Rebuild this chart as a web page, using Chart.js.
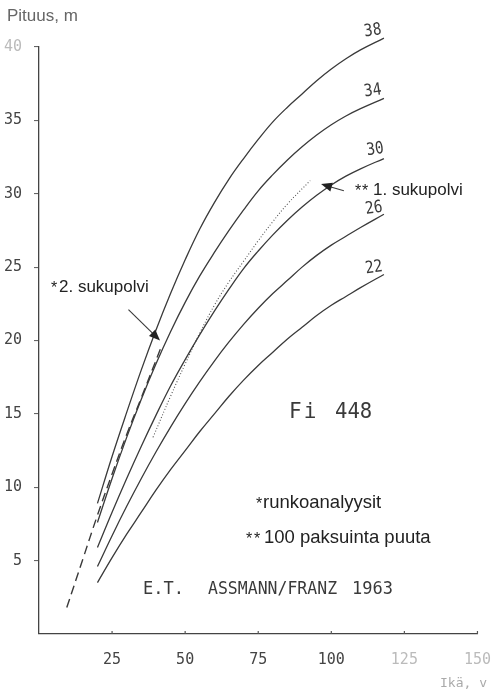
<!DOCTYPE html>
<html>
<head>
<meta charset="utf-8">
<title>Pituus – ikä, Fi 448</title>
<script src="https://cdn.jsdelivr.net/npm/chart.js@4.4.1/dist/chart.umd.min.js"></script>
<style>
  html, body { margin: 0; padding: 0; background: #fff; }
  #wrap { width: 500px; height: 692px; }
</style>
</head>
<body>
<div id="wrap"><canvas id="c" width="500" height="692"></canvas></div>
<script>
// Axis tick values
const ageTicks = [25, 50, 75, 100, 125, 150];
const heightTicks = [5, 10, 15, 20, 25, 30, 35, 40];

// Site-index height curves (Assmann/Franz 1963): age in years, height in m
const curveAges = [20, 25, 30, 35, 40, 45, 50, 55, 60, 65, 70, 75, 80, 85, 90, 95, 100, 105, 110, 118];
const si38Height = [8.9, 12.1, 15.1, 18.0, 20.7, 23.2, 25.5, 27.6, 29.4, 31.0, 32.4, 33.7, 34.9, 35.9, 36.8, 37.7, 38.5, 39.2, 39.8, 40.6];
const si34Height = [7.6, 10.6, 13.4, 16.0, 18.4, 20.6, 22.6, 24.4, 26.0, 27.5, 28.9, 30.2, 31.3, 32.3, 33.2, 34.0, 34.7, 35.3, 35.8, 36.5];
const si30Height = [5.9, 8.3, 10.6, 12.8, 14.9, 16.9, 18.7, 20.4, 22.0, 23.5, 24.9, 26.1, 27.2, 28.2, 29.1, 29.9, 30.6, 31.2, 31.7, 32.4];
const si26Height = [4.6, 6.7, 8.7, 10.6, 12.4, 14.1, 15.7, 17.2, 18.6, 19.9, 21.1, 22.2, 23.2, 24.1, 25.0, 25.8, 26.5, 27.1, 27.7, 28.6];
const si22Height = [3.5, 5.2, 6.8, 8.3, 9.8, 11.2, 12.5, 13.8, 15.0, 16.2, 17.3, 18.3, 19.2, 20.1, 20.9, 21.7, 22.4, 23.0, 23.6, 24.5];

// 1st generation: 100 thickest trees
const gen1Age = [39, 45, 50, 55, 60, 65, 70, 75, 80, 85, 92.8];
const gen1Height = [13.4, 16.2, 18.4, 20.5, 22.4, 24.0, 25.4, 26.8, 28.1, 29.3, 30.9];

// 2nd generation: stem analyses
const gen2Age = [9.5, 15, 20, 25, 30, 35, 41.5];
const gen2Height = [1.8, 5.1, 8.1, 10.9, 13.6, 16.1, 19.4];

const curveLabels = ['38', '34', '30', '26', '22'];

const pts = (ages, hs) => ages.map((a, i) => ({ x: a, y: hs[i] }));

const INK = '#3a3a3a';

function solid(ages, hs) {
  return {
    data: pts(ages, hs),
    borderColor: INK, borderWidth: 1.3,
    pointRadius: 0, fill: false, clip: false,
    tension: 0.4
  };
}

const datasets = [
  solid(curveAges, si38Height),
  solid(curveAges, si34Height),
  solid(curveAges, si30Height),
  solid(curveAges, si26Height),
  solid(curveAges, si22Height),
  Object.assign(solid(gen1Age, gen1Height), { borderDash: [1, 2], borderWidth: 1.1, borderColor: '#555' }),
  Object.assign(solid(gen2Age, gen2Height), { borderDash: [9, 5], borderWidth: 1.4 })
];

// Text, arrows and curve labels drawn on top of the plot
function drawText(ctx, text, px, py, o) {
  ctx.save();
  ctx.translate(px, py);
  if (o.rotate) ctx.rotate(o.rotate);
  if (o.scaleX) ctx.scale(o.scaleX, 1);
  ctx.font = o.font;
  ctx.fillStyle = o.color || INK;
  ctx.textAlign = o.align || 'left';
  ctx.textBaseline = o.baseline || 'alphabetic';
  ctx.fillText(text, 0, 0);
  ctx.restore();
}

function arrow(ctx, x1, y1, x2, y2) {
  const ang = Math.atan2(y2 - y1, x2 - x1);
  const len = 11, half = 4.5;
  ctx.save();
  ctx.strokeStyle = INK; ctx.fillStyle = '#222'; ctx.lineWidth = 1.1;
  ctx.beginPath(); ctx.moveTo(x1, y1);
  ctx.lineTo(x2 - Math.cos(ang) * len * 0.6, y2 - Math.sin(ang) * len * 0.6);
  ctx.stroke();
  const bx = x2 - Math.cos(ang) * len, by = y2 - Math.sin(ang) * len;
  ctx.beginPath();
  ctx.moveTo(x2, y2);
  ctx.lineTo(bx + Math.sin(ang) * half, by - Math.cos(ang) * half);
  ctx.lineTo(bx - Math.sin(ang) * half, by + Math.cos(ang) * half);
  ctx.closePath(); ctx.fill();
  ctx.restore();
}

const notes = {
  id: 'notes',
  afterDraw(chart) {
    const { ctx, scales: { x, y } } = chart;
    const sans = '17px "Liberation Sans", Arial, sans-serif';
    const mono = s => s + 'px "DejaVu Sans Mono", monospace';

    // inward tick marks on the age axis
    ctx.save();
    ctx.strokeStyle = '#555'; ctx.lineWidth = 1.2;
    ageTicks.forEach(v => {
      const px = x.getPixelForValue(v);
      ctx.beginPath(); ctx.moveTo(px, y.bottom); ctx.lineTo(px, y.bottom - 3); ctx.stroke();
    });
    ctx.restore();

    // axis titles
    drawText(ctx, 'Pituus, m', 7, 21, { font: sans, color: '#666' });
    drawText(ctx, 'Ikä, v', 440, 687, { font: '13px "DejaVu Sans Mono", monospace', color: '#aaa' });

    // site-index labels above the curve ends
    const labelPos = [[114.2, 41.1], [114.2, 37.0], [115.0, 33.0], [114.6, 29.0], [114.6, 24.95]];
    curveLabels.forEach((t, i) => {
      drawText(ctx, t, x.getPixelForValue(labelPos[i][0]), y.getPixelForValue(labelPos[i][1]),
        { font: mono(17), align: 'center', baseline: 'middle', scaleX: 0.85, rotate: -0.14 });
    });

    // arrows to the generation curves
    arrow(ctx, x.getPixelForValue(30.6), y.getPixelForValue(22.1), x.getPixelForValue(41.4), y.getPixelForValue(20.0));
    arrow(ctx, x.getPixelForValue(104.3), y.getPixelForValue(30.2), x.getPixelForValue(96.5), y.getPixelForValue(30.66));

    // generation notes with star markers
    const star = (px, py) => drawText(ctx, '*', px, py + 1, { font: '16px "Liberation Sans", Arial, sans-serif', color: '#222' });
    star(51, 292);
    drawText(ctx, '2. sukupolvi', 59, 292, { font: sans, color: '#222' });
    star(355, 195); star(362, 195);
    drawText(ctx, '1. sukupolvi', 373, 195, { font: sans, color: '#222' });

    // stand code
    drawText(ctx, 'F', 289, 418, { font: mono(21) });
    drawText(ctx, 'i', 310, 418, { font: mono(21), align: 'center' });
    drawText(ctx, '448', 335, 418, { font: mono(21), scaleX: 0.98 });

    // key
    const keyFont = '18.5px "Liberation Sans", Arial, sans-serif';
    star(256, 508);
    drawText(ctx, 'runkoanalyysit', 263, 508, { font: keyFont, color: '#222' });
    star(246, 543); star(254, 543);
    drawText(ctx, '100 paksuinta puuta', 264, 543, { font: keyFont, color: '#222' });

    // source
    drawText(ctx, 'E.T.', 143, 594, { font: mono(17) });
    drawText(ctx, 'ASSMANN/FRANZ', 208, 594, { font: mono(17), scaleX: 0.97 });
    drawText(ctx, '1963', 352, 594, { font: mono(17) });
  }
};

const faint = v => (v === 40 || v === 125 || v === 150) ? '#bbb' : '#444';

new Chart(document.getElementById('c'), {
  type: 'line',
  data: { datasets },
  options: {
    responsive: false,
    animation: false,
    layout: { padding: { top: 47, right: 15, left: 0, bottom: 0 } },
    plugins: { legend: { display: false }, tooltip: { enabled: false } },
    scales: {
      x: {
        type: 'linear', min: 0, max: 150,
        afterBuildTicks: s => { s.ticks = ageTicks.map(v => ({ value: v })); },
        afterFit: s => { s.height = 58; },
        ticks: {
          font: { family: '"DejaVu Sans Mono", monospace', size: 15 },
          color: c => faint(c.tick.value), padding: 9, maxRotation: 0
        },
        grid: { display: false },
        border: { display: true, color: '#444', width: 1.3 }
      },
      y: {
        min: 0, max: 40,
        afterBuildTicks: s => { s.ticks = heightTicks.map(v => ({ value: v })); },
        afterFit: s => { s.width = 39; },
        ticks: {
          font: { family: '"DejaVu Sans Mono", monospace', size: 15 },
          color: c => faint(c.tick.value), padding: 12
        },
        grid: { drawOnChartArea: false, drawTicks: true, tickLength: 5, color: '#666', lineWidth: 1.1 },
        border: { display: true, color: '#444', width: 1.3 }
      }
    }
  },
  plugins: [notes]
});
</script>
</body>
</html>
